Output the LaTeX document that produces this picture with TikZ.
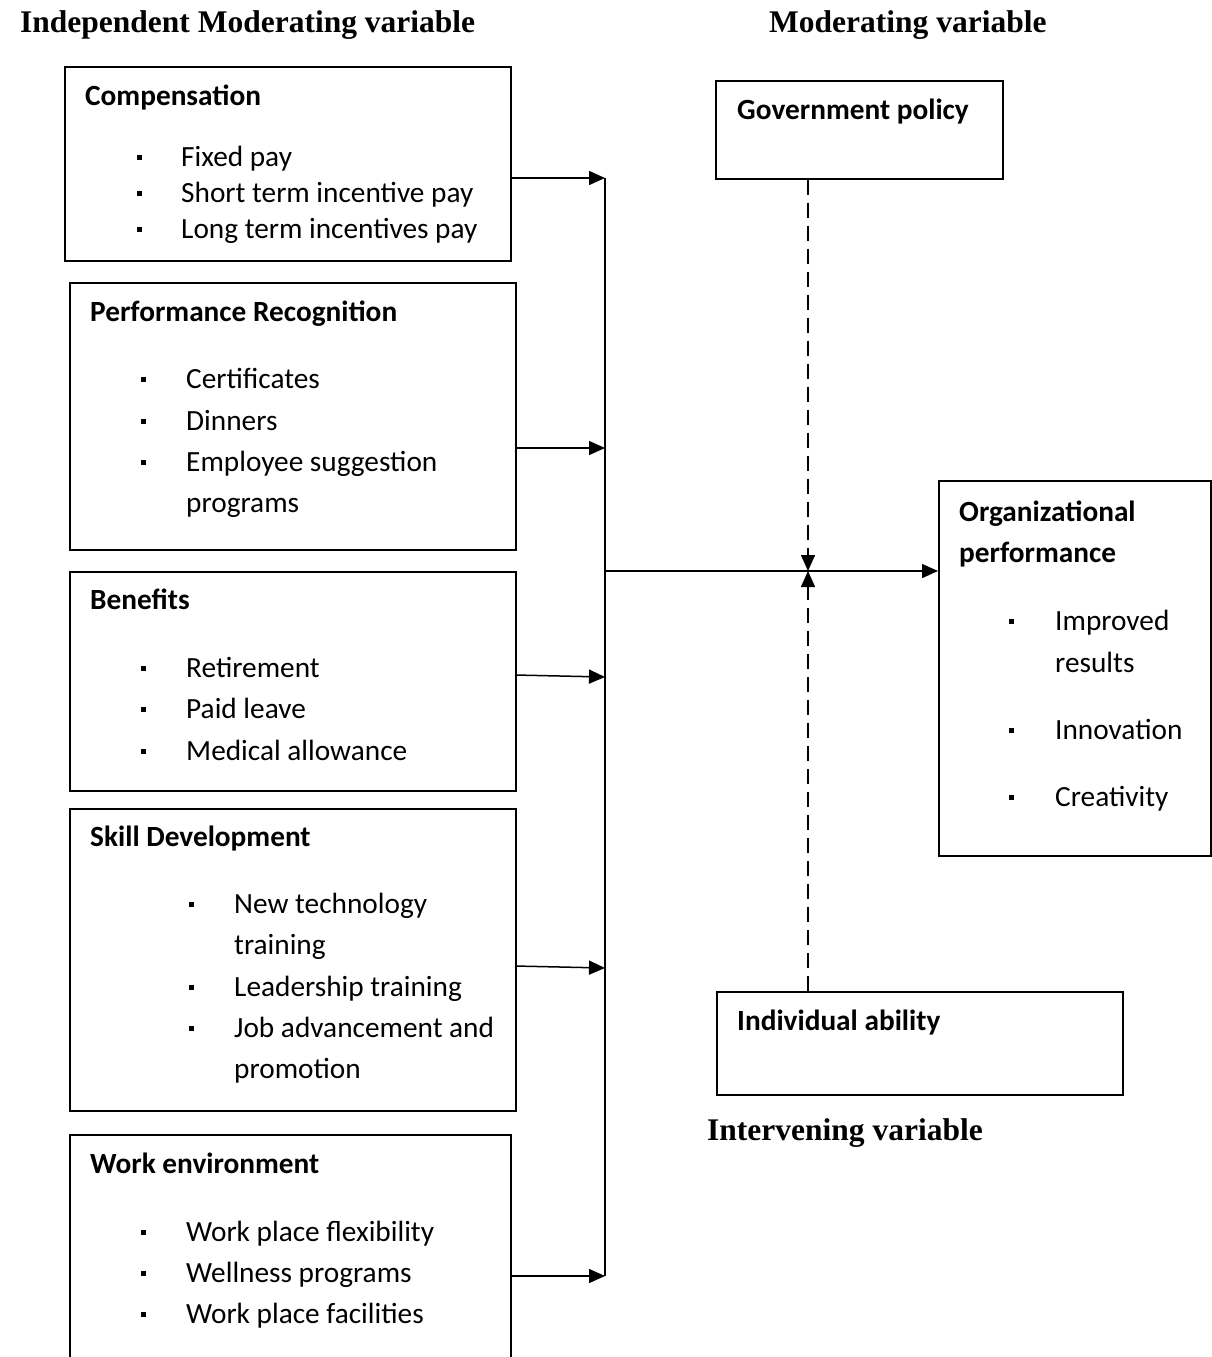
\documentclass[tikz,border=0pt]{standalone}
\usepackage{fontspec}
\setmainfont{Carlito}
\newfontfamily\titlefont{Liberation Serif}
\usetikzlibrary{arrows.meta}

\tikzset{
  box/.style={draw, line width=1.5pt, anchor=north west, inner sep=0pt},
  head/.style={font=\bfseries\fontsize{29.3}{35}\selectfont, anchor=west, inner sep=0pt,
               text height=21pt, text depth=3pt},
  item/.style={font=\fontsize{29.3}{35}\selectfont, anchor=west, inner sep=0pt,
               text height=21pt, text depth=3pt},
  bul/.style={fill, inner sep=0pt, minimum size=5pt},
  ttl/.style={font=\titlefont\bfseries\fontsize{31.5}{38}\selectfont, anchor=west, inner sep=0pt,
              text height=22pt, text depth=7pt},
  link/.style={line width=1.5pt, -{Triangle[length=16pt,width=14pt]}},
  modlink/.style={link, dash pattern=on 15pt off 8pt}
}

\begin{document}
\begin{tikzpicture}[x=1pt, y=-1pt]
  \useasboundingbox (0,0) rectangle (1212,1357);

  \node[ttl] (indep) at (20,25) {Independent Moderating variable};
  \node[ttl] (moder) at (769,25) {Moderating variable};
  \node[ttl] (interv) at (707,1133) {Intervening variable};

  % left column
  \node[box, minimum width=446pt, minimum height=194pt] (comp) at (64,66) {};
  \node[head] (comph) at (85,96) {Compensation};
  \foreach \y/\t in {157/Fixed pay, 193/Short term incentive pay, 229/Long term incentives pay}{
    \node[bul] (b\y) at (139,\y) {};
    \node[item] (t\y) at (181,\y) {\t};
  }

  \node[box, minimum width=446pt, minimum height=267pt] (perf) at (69,282) {};
  \node[head] (perfh) at (90,312) {Performance Recognition};
  \foreach \y/\t in {379/Certificates, 421/Dinners, 462/Employee suggestion}{
    \node[bul] (b\y) at (143,\y) {};
    \node[item] (t\y) at (186,\y) {\t};
  }
  \node[item] (t503) at (186,503) {programs};

  \node[box, minimum width=446pt, minimum height=219pt] (ben) at (69,571) {};
  \node[head] (benh) at (90,600) {Benefits};
  \foreach \y/\t in {668/Retirement, 709/Paid leave, 751/Medical allowance}{
    \node[bul] (b\y) at (143,\y) {};
    \node[item] (t\y) at (186,\y) {\t};
  }

  \node[box, minimum width=446pt, minimum height=302pt] (skill) at (69,808) {};
  \node[head] (skillh) at (90,837) {Skill Development};
  \foreach \y/\t in {904/New technology, 987/Leadership training, 1028/Job advancement and}{
    \node[bul] (b\y) at (191,\y) {};
    \node[item] (t\y) at (234,\y) {\t};
  }
  \node[item] (t945) at (234,945) {training};
  \node[item] (t1069) at (234,1069) {promotion};

  \node[box, minimum width=441pt, minimum height=240pt] (work) at (69,1134) {};
  \node[head] (workh) at (90,1164) {Work environment};
  \foreach \y/\t in {1232/Work place flexibility, 1273/Wellness programs, 1314/Work place facilities}{
    \node[bul] (b\y) at (143,\y) {};
    \node[item] (t\y) at (186,\y) {\t};
  }

  % right column
  \node[box, minimum width=287pt, minimum height=98pt] (gov) at (715,80) {};
  \node[head] (govh) at (737,110) {Government policy};

  \node[box, minimum width=406pt, minimum height=103pt] (indiv) at (716,991) {};
  \node[head] (indivh) at (737,1021) {Individual ability};

  \node[box, minimum width=272pt, minimum height=375pt] (org) at (938,480) {};
  \node[head] (orgh1) at (959,512) {Organizational};
  \node[head] (orgh2) at (959,553) {performance};
  \foreach \y/\t in {621/Improved, 730/Innovation, 797/Creativity}{
    \node[bul] (b\y) at (1011,\y) {};
    \node[item] (t\y) at (1055,\y) {\t};
  }
  \node[item] (t663) at (1055,663) {results};

  % connectors
  \coordinate (bus1) at (605,178);
  \coordinate (bus2) at (605,448);
  \coordinate (bus3) at (605,677);
  \coordinate (bus4) at (605,968);
  \coordinate (bus5) at (605,1276);
  \coordinate (join) at (605,571);
  \coordinate (hub) at (808,571);

  \draw[line width=1.5pt] (bus1) -- (bus5);
  \draw[link] (comp.east |- bus1) -- (bus1);
  \draw[link] (perf.east |- bus2) -- (bus2);
  \draw[link] (515,675) -- (bus3);
  \draw[link] (515,966) -- (bus4);
  \draw[link] (work.east |- bus5) -- (bus5);
  \draw[link] (join) -- (org.west |- join);
  \draw[modlink] (gov.south -| hub) -- (hub);
  \draw[modlink] (indiv.north -| hub) -- (hub);
\end{tikzpicture}
\end{document}
